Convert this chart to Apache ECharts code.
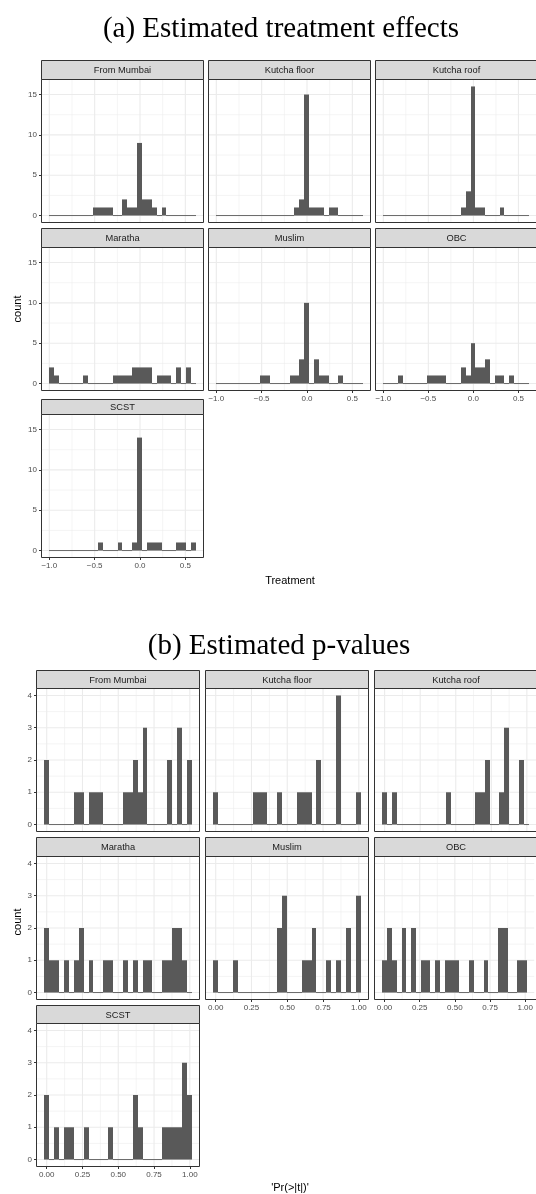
<!DOCTYPE html>
<html><head><meta charset="utf-8">
<script src="https://cdn.jsdelivr.net/npm/echarts@6/dist/echarts.min.js"></script>
<style>html,body{margin:0;padding:0;background:#fff}#c{width:536px;height:1194px}</style>
</head><body><div id="c"></div>
<script>
// ---------------- DATA ----------------
const facetNames = ['From Mumbai', 'Kutcha floor', 'Kutcha roof', 'Maratha', 'Muslim', 'OBC', 'SCST'];

// (a) Estimated treatment effects: 30 histogram bins
const treatBinStart = -1.0;
const treatBinWidth = 0.0538;
const treatFromMumbai = [0,0,0,0,0,0,0,0,0,1, 1,1,1,0,0,2,1,1,9,2, 2,1,0,1,0,0,0,0,0,0];
const treatKutchaFloor = [0,0,0,0,0,0,0,0,0,0, 0,0,0,0,0,0,1,2,15,1, 1,1,0,1,1,0,0,0,0,0];
const treatKutchaRoof = [0,0,0,0,0,0,0,0,0,0, 0,0,0,0,0,0,1,3,16,1, 1,0,0,0,1,0,0,0,0,0];
const treatMaratha = [2,1,0,0,0,0,0,1,0,0, 0,0,0,1,1,1,1,2,2,2, 2,0,1,1,1,0,2,0,2,0];
const treatMuslim = [0,0,0,0,0,0,0,0,0,1, 1,0,0,0,0,1,1,3,10,0, 3,1,1,0,0,1,0,0,0,0];
const treatOBC = [0,0,0,1,0,0,0,0,0,1, 1,1,1,0,0,0,2,1,5,2, 2,3,0,1,1,0,1,0,0,0];
const treatSCST = [0,0,0,0,0,0,0,0,0,0, 1,0,0,0,1,0,0,1,14,0, 1,1,1,0,0,0,1,1,0,1];
const treatXTicks = [-1.0, -0.5, 0.0, 0.5];
const treatXTickLabels = ['\u22121.0', '\u22120.5', '0.0', '0.5'];
const treatXMinor = [-0.75, -0.25, 0.25];
const treatYTicks = [0, 5, 10, 15];
const treatYTickLabels = ['0', '5', '10', '15'];
const treatYMinor = [2.5, 7.5, 12.5];

// (b) Estimated p-values: 30 histogram bins
const pvalBinStart = -0.0163;
const pvalBinWidth = 0.0343;
const pvalFromMumbai = [2,0,0,0,0,0,1,1,0,1, 1,1,0,0,0,0,1,1,2,1, 3,0,0,0,0,2,0,3,0,2];
const pvalKutchaFloor = [1,0,0,0,0,0,0,0,1,1, 1,0,0,1,0,0,0,1,1,1, 0,2,0,0,0,4,0,0,0,1];
const pvalKutchaRoof = [1,0,1,0,0,0,0,0,0,0, 0,0,0,1,0,0,0,0,0,1, 1,2,0,0,1,3,0,0,2,0];
const pvalMaratha = [2,1,1,0,1,0,1,2,0,1, 0,0,1,1,0,0,1,0,1,0, 1,1,0,0,1,1,2,2,1,0];
const pvalMuslim = [1,0,0,0,1,0,0,0,0,0, 0,0,0,2,3,0,0,0,1,1, 2,0,0,1,0,1,0,2,0,3];
const pvalOBC = [1,2,1,0,2,0,2,0,1,1, 0,1,0,1,1,1,0,0,1,0, 0,1,0,0,2,2,0,0,1,1];
const pvalSCST = [2,0,1,0,1,1,0,0,1,0, 0,0,0,1,0,0,0,0,2,1, 0,0,0,0,1,1,1,1,3,2];
const pvalXTicks = [0, 0.25, 0.5, 0.75, 1.0];
const pvalXTickLabels = ['0.00', '0.25', '0.50', '0.75', '1.00'];
const pvalXMinor = [0.125, 0.375, 0.625, 0.875];
const pvalYTicks = [0, 1, 2, 3, 4];
const pvalYTickLabels = ['0', '1', '2', '3', '4'];
const pvalYMinor = [0.5, 1.5, 2.5, 3.5];

// ---------------- LAYOUT / STYLE ----------------
const SANS = '"Liberation Sans", Arial, sans-serif';
const SERIF = '"Liberation Serif", "Times New Roman", serif';
const layoutA = { colLeft: [42, 209, 376], panelW: 161, panelTop: [80, 248, 415], panelH: 142, stripTop: [61, 229, 400],
  title: '(a) Estimated treatment effects', titleX: 281, titleY: 29, xTitle: 'Treatment', xTitleX: 290, xTitleY: 581, yTitleY: 309 };
const layoutB = { colLeft: [37, 206, 375], panelW: 162, panelTop: [689, 857, 1024], panelH: 142, stripTop: [671, 838, 1006],
  title: '(b) Estimated p-values', titleX: 279, titleY: 646, xTitle: "'Pr(>|t|)'", xTitleX: 290, xTitleY: 1188, yTitleY: 922 };

const option = { animation: false, backgroundColor: '#ffffff', grid: [], xAxis: [], yAxis: [], series: [], graphic: { elements: [] } };
const G = option.graphic.elements;

function labelFor(ticks, labels) {
  return function (v) {
    for (let i = 0; i < ticks.length; i++) if (Math.abs(ticks[i] - v) < 1e-9) return labels[i];
    return '';
  };
}

function addFacet(spec, L) {
  const nb = spec.counts[0].length;
  const lo = spec.binStart, hi = spec.binStart + nb * spec.binWidth;
  const xpad = 0.05 * (hi - lo);
  const xmin = lo - xpad, xmax = hi + xpad;
  let ymaxData = 0;
  spec.counts.forEach(c => c.forEach(v => { if (v > ymaxData) ymaxData = v; }));
  const ypad = 0.05 * ymaxData;
  const ymin = -ypad, ymax = ymaxData + ypad;
  const n = spec.counts.length;

  for (let i = 0; i < n; i++) {
    const row = Math.floor(i / 3), col = i % 3;
    const left = L.colLeft[col], top = L.panelTop[row];
    const showY = col === 0;
    const showX = i + 3 >= n;
    const gi = option.grid.length;
    option.grid.push({ left: left, top: top, width: L.panelW, height: L.panelH, show: false, containLabel: false });
    option.xAxis.push({
      gridIndex: gi, type: 'value', min: xmin, max: xmax,
      axisLine: { show: false, onZero: false }, splitLine: { show: false },
      axisTick: { show: showX, customValues: spec.xTicks, length: 3, lineStyle: { color: '#333333', width: 1 } },
      axisLabel: { show: showX, customValues: spec.xTicks, formatter: labelFor(spec.xTicks, spec.xTickLabels),
        color: '#4D4D4D', fontSize: 8, fontFamily: SANS, margin: 5, hideOverlap: false }
    });
    option.yAxis.push({
      gridIndex: gi, type: 'value', min: ymin, max: ymax,
      axisLine: { show: false, onZero: false }, splitLine: { show: false },
      axisTick: { show: showY, customValues: spec.yTicks, length: 3, lineStyle: { color: '#333333', width: 1 } },
      axisLabel: { show: showY, customValues: spec.yTicks, formatter: labelFor(spec.yTicks, spec.yTickLabels),
        color: '#4D4D4D', fontSize: 8, fontFamily: SANS, margin: 5, hideOverlap: false }
    });
    // grid lines (minor then major), drawn through the axis scales
    const gridData = [];
    spec.xMinor.forEach(v => gridData.push([v, 0, 0]));
    spec.yMinor.forEach(v => gridData.push([v, 1, 0]));
    spec.xTicks.forEach(v => gridData.push([v, 0, 1]));
    spec.yTicks.forEach(v => gridData.push([v, 1, 1]));
    option.series.push({
      type: 'custom', xAxisIndex: gi, yAxisIndex: gi, silent: true, z: 1, clip: true,
      data: gridData, encode: { x: 0, y: 1 },
      renderItem: function (params, api) {
        const cs = params.coordSys;
        const v = api.value(0), o = api.value(1), maj = api.value(2);
        let shape;
        if (o === 0) { const x = api.coord([v, 0])[0]; shape = { x1: x, y1: cs.y, x2: x, y2: cs.y + cs.height }; }
        else { const y = api.coord([0, v])[1]; shape = { x1: cs.x, y1: y, x2: cs.x + cs.width, y2: y }; }
        return { type: 'line', shape: shape, style: { stroke: '#EBEBEB', lineWidth: maj ? 1.1 : 0.55 } };
      }
    });
    // histogram bars
    const counts = spec.counts[i];
    const barData = counts.map((c, k) => [spec.binStart + k * spec.binWidth, spec.binStart + (k + 1) * spec.binWidth, c]);
    option.series.push({
      type: 'custom', xAxisIndex: gi, yAxisIndex: gi, silent: true, z: 2, clip: false,
      data: barData, encode: { x: [0, 1], y: 2 },
      renderItem: function (params, api) {
        const x0 = api.value(0), x1 = api.value(1), c = api.value(2);
        const pTop = api.coord([x0, c]), pBase = api.coord([x1, 0]);
        const l = Math.round(pTop[0]), r = Math.round(pBase[0]);
        if (c === 0) {
          return { type: 'line', shape: { x1: l, y1: pBase[1], x2: r, y2: pBase[1] }, style: { stroke: '#595959', lineWidth: 0.9 } };
        }
        return { type: 'rect', shape: { x: l, y: pTop[1], width: r - l, height: pBase[1] - pTop[1] }, style: { fill: '#595959' } };
      }
    });
    // panel border (on top)
    G.push({ type: 'rect', z: 100, silent: true, shape: { x: left - 0.5, y: top - 0.5, width: L.panelW + 1, height: L.panelH + 1 },
      style: { fill: null, stroke: '#333333', lineWidth: 1 } });
    // strip
    const sTop = L.stripTop[row], sH = top - sTop;
    G.push({ type: 'rect', z: 100, silent: true, shape: { x: left - 0.5, y: sTop - 0.5, width: L.panelW + 1, height: sH },
      style: { fill: '#D9D9D9', stroke: '#333333', lineWidth: 1 } });
    G.push({ type: 'text', z: 101, silent: true, x: left + L.panelW / 2, y: sTop + sH / 2,
      style: { text: spec.names[i], fill: '#1A1A1A', fontSize: 9.3, fontFamily: SANS, align: 'center', verticalAlign: 'middle' } });
  }
  // titles
  G.push({ type: 'text', z: 101, silent: true, x: L.titleX, y: L.titleY,
    style: { text: L.title, fill: '#000', fontSize: 29, fontFamily: SERIF, align: 'center', verticalAlign: 'middle' } });
  G.push({ type: 'text', z: 101, silent: true, x: L.xTitleX, y: L.xTitleY,
    style: { text: L.xTitle, fill: '#000', fontSize: 11, fontFamily: SANS, align: 'center', verticalAlign: 'middle' } });
  G.push({ type: 'text', z: 101, silent: true, x: 18, y: L.yTitleY, rotation: Math.PI / 2,
    style: { text: 'count', fill: '#000', fontSize: 11, fontFamily: SANS, align: 'center', verticalAlign: 'middle' } });
}

addFacet({
  names: facetNames,
  counts: [treatFromMumbai, treatKutchaFloor, treatKutchaRoof, treatMaratha, treatMuslim, treatOBC, treatSCST],
  binStart: treatBinStart, binWidth: treatBinWidth,
  xTicks: treatXTicks, xTickLabels: treatXTickLabels, xMinor: treatXMinor,
  yTicks: treatYTicks, yTickLabels: treatYTickLabels, yMinor: treatYMinor
}, layoutA);

addFacet({
  names: facetNames,
  counts: [pvalFromMumbai, pvalKutchaFloor, pvalKutchaRoof, pvalMaratha, pvalMuslim, pvalOBC, pvalSCST],
  binStart: pvalBinStart, binWidth: pvalBinWidth,
  xTicks: pvalXTicks, xTickLabels: pvalXTickLabels, xMinor: pvalXMinor,
  yTicks: pvalYTicks, yTickLabels: pvalYTickLabels, yMinor: pvalYMinor
}, layoutB);

const chart = echarts.init(document.getElementById('c'), null, { renderer: 'canvas', width: 536, height: 1194 });
chart.setOption(option);
</script>
</body></html>
